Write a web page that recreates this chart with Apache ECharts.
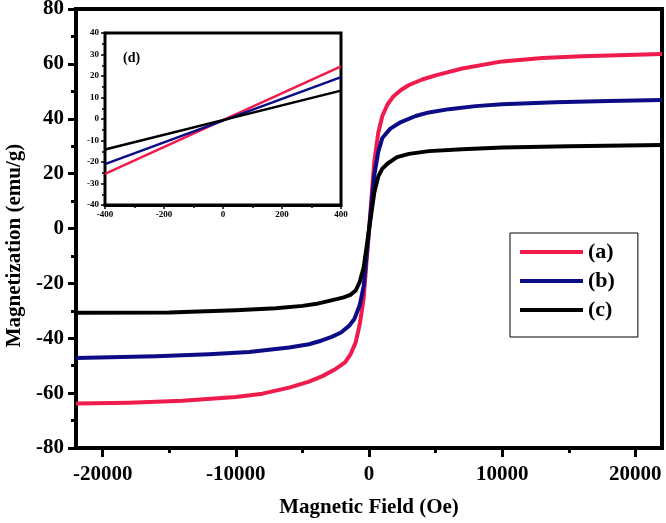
<!DOCTYPE html>
<html>
<head>
<meta charset="utf-8">
<script src="https://cdn.jsdelivr.net/npm/echarts@6/dist/echarts.min.js"></script>
<style>html,body{margin:0;padding:0;background:#fff}#c{width:666px;height:523px}</style>
</head>
<body>
<div id="c"></div>
<script>
// ---- data (Magnetic field Oe, Magnetization emu/g) ----
const seriesNames = ['(a)', '(b)', '(c)'];
const fieldA = [-22000,-18000,-14000,-10000,-8000,-6000,-4500,-3500,-2500,-1800,-1400,-1000,-700,-400,0,400,700,1000,1400,1800,2400,3000,4000,5000,7000,10000,13000,16000,20000,22000];
const magA   = [-63.8,-63.5,-62.8,-61.4,-60.2,-58.0,-55.8,-53.8,-51.2,-48.8,-46.0,-41.5,-35.0,-25.5,-0.5,24.5,35.0,41.0,45.3,48.0,50.5,52.3,54.3,55.8,58.3,60.9,62.1,62.8,63.3,63.6];
const fieldB = [-22000,-16000,-12000,-9000,-6000,-4500,-3600,-2800,-2100,-1500,-1100,-700,-400,0,400,700,1000,1600,2400,3500,4500,6000,8000,10000,14000,18000,22000];
const magB   = [-47.2,-46.6,-45.8,-45.0,-43.4,-42.2,-40.9,-39.5,-37.9,-35.5,-33.0,-28.0,-21.0,-0.7,19.5,28.0,33.0,36.4,38.8,41.0,42.3,43.5,44.6,45.3,46.0,46.5,46.8];
const fieldC = [-22000,-15000,-10000,-7000,-5000,-3800,-2900,-1900,-1400,-1000,-700,-400,0,400,700,1000,1400,2100,3000,4500,7000,10000,15000,22000];
const magC   = [-30.7,-30.6,-29.8,-29.1,-28.2,-27.3,-26.3,-25.1,-24.2,-22.6,-19.5,-14.2,-0.5,13.2,19.0,21.8,23.7,26.0,27.2,28.2,28.9,29.5,30.0,30.4];
// inset (d)
const insetField = [-400, 400];
const insetA = [-25.5, 24.5];
const insetB = [-21.0, 19.5];
const insetC = [-14.2, 13.2];
// tick labels
const xMajorTicks = [-20000,-10000,0,10000,20000];
const xMinorTicks = [-15000,-5000,5000,15000];
const colors = ['#EE1B4C', '#0C0C86', '#000000'];

const pair = (xs, ys) => xs.map((x, i) => [x, ys[i]]);
const FF = '"Liberation Serif","Times New Roman",serif';
const plain = v => String(v);

const chart = echarts.init(document.getElementById('c'), null, {renderer: 'canvas'});
const mainData = [pair(fieldA, magA), pair(fieldB, magB), pair(fieldC, magC)];
const insetData = [pair(insetField, insetA), pair(insetField, insetB), pair(insetField, insetC)];

const series = [];
mainData.forEach((d, i) => series.push({
  name: seriesNames[i], type: 'line', xAxisIndex: 0, yAxisIndex: 0, data: d,
  showSymbol: false, smooth: false,
  lineStyle: {color: colors[i], width: 4, join: 'round'}, itemStyle: {color: colors[i]}, z: 3
}));
insetData.forEach((d, i) => series.push({
  name: 'inset' + i, type: 'line', xAxisIndex: 2, yAxisIndex: 1, data: d,
  showSymbol: false, lineStyle: {color: colors[i], width: 2.5}, itemStyle: {color: colors[i]}, z: 5
}));

chart.setOption({
  animation: false,
  backgroundColor: '#fff',
  title: {text: '(d)', left: 118, top: 46, textStyle: {fontFamily: FF, fontWeight: 'bold', fontSize: 14, color: '#000'}, z: 10},
  legend: {
    data: seriesNames, orient: 'vertical', left: 510, top: 233,
    padding: [8, 23, 16, 10], itemGap: 7, itemWidth: 63, itemHeight: 4, icon: 'rect',
    borderColor: '#000', borderWidth: 1, backgroundColor: '#fff',
    textStyle: {fontFamily: FF, fontWeight: 'bold', fontSize: 22, color: '#000', lineHeight: 22, padding: [0, 0, 0, 0]}
  },
  grid: [
    {left: 76, right: 4, top: 9, bottom: 75, outerBoundsMode: 'none', containLabel: false, show: true, borderColor: '#000', borderWidth: 4, backgroundColor: '#fff'},
    {left: 105, top: 33, width: 236, height: 172, outerBoundsMode: 'none', containLabel: false, show: true, borderColor: '#000', borderWidth: 3, backgroundColor: '#fff', z: 4}
  ],
  xAxis: [
    {type: 'value', gridIndex: 0, min: -22000, max: 22000,
     name: 'Magnetic Field (Oe)', nameLocation: 'middle', nameGap: 49,
     nameTextStyle: {fontFamily: FF, fontWeight: 'bold', fontSize: 21, color: '#000'},
     axisLine: {onZero: false, lineStyle: {color: '#000', width: 4}},
     axisTick: {customValues: xMajorTicks, length: 9, lineStyle: {width: 3, color: '#000'}},
     axisLabel: {customValues: xMajorTicks, formatter: plain, margin: 16, fontFamily: FF, fontWeight: 'bold', fontSize: 21, color: '#000'},
     splitLine: {show: false}},
    {type: 'value', gridIndex: 0, min: -22000, max: 22000, position: 'bottom',
     axisLine: {show: false, onZero: false}, axisLabel: {show: false}, splitLine: {show: false},
     axisTick: {customValues: xMinorTicks, length: 5, lineStyle: {width: 3, color: '#000'}}},
    {type: 'value', gridIndex: 1, min: -400, max: 400, interval: 200,
     axisLine: {onZero: false, lineStyle: {color: '#000', width: 3}},
     axisTick: {length: 4, lineStyle: {width: 1.5, color: '#000'}},
     minorTick: {show: true, splitNumber: 2, length: 3, lineStyle: {width: 1.5, color: '#000'}},
     axisLabel: {formatter: plain, margin: 5, fontFamily: FF, fontWeight: 'bold', fontSize: 9, color: '#000'},
     splitLine: {show: false}}
  ],
  yAxis: [
    {type: 'value', gridIndex: 0, min: -80, max: 80, interval: 20,
     name: 'Magnetization (emu/g)', nameLocation: 'middle', nameGap: 45,
     nameTextStyle: {fontFamily: FF, fontWeight: 'bold', fontSize: 21, color: '#000', padding: [0, 34, 0, 0]},
     axisLine: {onZero: false, lineStyle: {color: '#000', width: 4}},
     axisTick: {length: 8, lineStyle: {width: 3, color: '#000'}},
     minorTick: {show: true, splitNumber: 2, length: 5, lineStyle: {width: 3, color: '#000'}},
     axisLabel: {formatter: plain, margin: 12, fontFamily: FF, fontWeight: 'bold', fontSize: 21, color: '#000'},
     splitLine: {show: false}},
    {type: 'value', gridIndex: 1, min: -40, max: 40, interval: 10,
     axisLine: {onZero: false, lineStyle: {color: '#000', width: 3}},
     axisTick: {length: 4, lineStyle: {width: 1.5, color: '#000'}},
     minorTick: {show: true, splitNumber: 2, length: 3, lineStyle: {width: 1.5, color: '#000'}},
     axisLabel: {formatter: plain, margin: 6, fontFamily: FF, fontWeight: 'bold', fontSize: 9, color: '#000'},
     splitLine: {show: false}}
  ],
  series: series
});
</script>
</body>
</html>
